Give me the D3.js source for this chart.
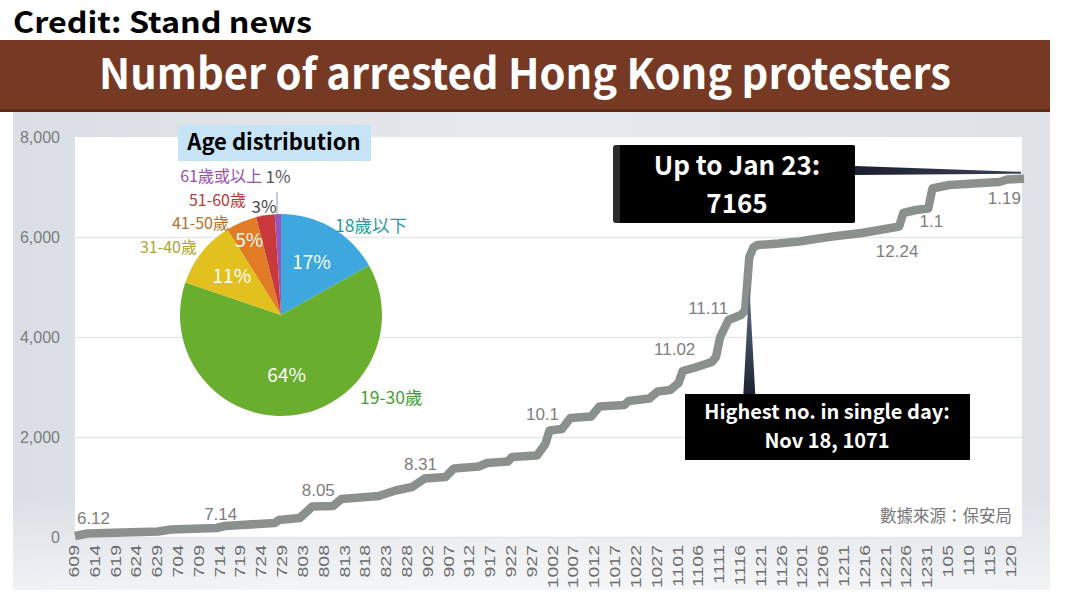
<!DOCTYPE html>
<html><head><meta charset="utf-8">
<script src="https://cdn.jsdelivr.net/npm/d3@7"></script>
<style>body{margin:0;background:#fff;} svg{display:block}</style>
</head><body><svg id="c" width="1080" height="607"></svg>
<script>
// ---- data ----
const lineDates = ["2019-06-09","2019-06-12","2019-06-29","2019-07-02","2019-07-13","2019-07-15","2019-07-27","2019-07-28","2019-08-02","2019-08-05","2019-08-10","2019-08-12","2019-08-21","2019-08-25","2019-08-29","2019-09-01","2019-09-06","2019-09-08","2019-09-14","2019-09-16","2019-09-21","2019-09-22","2019-09-28","2019-09-30","2019-10-01","2019-10-04","2019-10-06","2019-10-11","2019-10-13","2019-10-19","2019-10-20","2019-10-25","2019-10-27","2019-10-30","2019-11-01","2019-11-02","2019-11-05","2019-11-09","2019-11-10","2019-11-11","2019-11-13","2019-11-16","2019-11-17","2019-11-18","2019-11-19","2019-11-20","2019-11-25","2019-11-30","2019-12-03","2019-12-08","2019-12-15","2019-12-22","2019-12-24","2019-12-25","2019-12-28","2019-12-31","2020-01-01","2020-01-05","2020-01-17","2020-01-19","2020-01-23"];
const lineValues = [20,70,110,150,180,220,280,340,380,610,620,760,820,930,1000,1170,1200,1370,1410,1480,1510,1600,1630,1860,2130,2160,2380,2410,2610,2640,2720,2770,2910,2940,3080,3320,3390,3500,3600,4000,4340,4440,4530,5600,5790,5840,5870,5910,5950,6010,6080,6180,6210,6480,6540,6570,6970,7040,7100,7150,7165];
const xTickLabels = ["609","614","619","624","629","704","709","714","719","724","729","803","808","813","818","823","828","902","907","912","917","922","927","1002","1007","1012","1017","1022","1027","1101","1106","1111","1116","1121","1126","1201","1206","1211","1216","1221","1226","1231","105","110","115","120"];
const yTicks = [0,2000,4000,6000,8000];
const noteLabels = ["6.12","7.14","8.05","8.31","10.1","11.02","11.11","12.24","1.1","1.19"];
const noteDates = ["2019-06-12","2019-07-14","2019-08-05","2019-08-31","2019-10-01","2019-11-02","2019-11-11","2019-12-24","2020-01-01","2020-01-19"];
const ageGroups = ["18歲以下","19-30歲","31-40歲","41-50歲","51-60歲","61歲或以上"];
const ageShares = [17,64,11,5,3,1];
const ageColors = ["#3ea8de","#6aae2f","#e2c11f","#e27b26","#c9393c","#9a55b8"];
const labelColors = ["#2b9a9c","#43a032","#b0a52c","#b4712e","#b53a3a","#9b4db0"];
const totalDate = "2020-01-23", totalValue = 7165;
const peakDate = "2019-11-18", peakValue = 1071;

// ---- layout ----
const svg = d3.select("#c");
const parse = d3.timeParse("%Y-%m-%d");
const W = 1080, H = 607;
const HEAD = "Noto Sans CJK TC";
const plot = {l:75, r:1024, t:137, b:537};
const defs = svg.append("defs");
const bg = defs.append("linearGradient").attr("id","bg").attr("x1",0).attr("y1",0).attr("x2",1).attr("y2",0);
bg.append("stop").attr("offset","0%").attr("stop-color","#d9dfe5");
bg.append("stop").attr("offset","50%").attr("stop-color","#e6e9ec");
bg.append("stop").attr("offset","100%").attr("stop-color","#dde2e7");
const bgv = defs.append("linearGradient").attr("id","bgv").attr("x1",0).attr("y1",0).attr("x2",0).attr("y2",1);
bgv.append("stop").attr("offset","0%").attr("stop-color","#fff").attr("stop-opacity",0);
bgv.append("stop").attr("offset","80%").attr("stop-color","#fff").attr("stop-opacity",0);
bgv.append("stop").attr("offset","100%").attr("stop-color","#fff").attr("stop-opacity",0.6);
const wedge = defs.append("linearGradient").attr("id","wedgeH").attr("x1",0).attr("y1",0).attr("x2",1).attr("y2",0);
wedge.append("stop").attr("offset","0%").attr("stop-color","#1c2030");
wedge.append("stop").attr("offset","100%").attr("stop-color","#3b4257");
const wedgeV = defs.append("linearGradient").attr("id","wedgeV").attr("x1",0).attr("y1",1).attr("x2",0).attr("y2",0);
wedgeV.append("stop").attr("offset","0%").attr("stop-color","#1c2030");
wedgeV.append("stop").attr("offset","100%").attr("stop-color","#6a7690");

svg.append("rect").attr("x",0).attr("y",0).attr("width",W).attr("height",H).attr("fill","#fff");
svg.append("rect").attr("x",13).attr("y",112).attr("width",1037).attr("height",478).attr("fill","url(#bg)");
svg.append("rect").attr("x",13).attr("y",112).attr("width",1037).attr("height",478).attr("fill","url(#bgv)");

// title
svg.append("text").attr("x",13).attr("y",33).text("Credit: Stand news")
  .attr("font-family",HEAD).attr("font-weight",700).attr("font-size",29).attr("fill","#000")
  .attr("textLength",299).attr("lengthAdjust","spacingAndGlyphs");
svg.append("rect").attr("x",0).attr("y",40).attr("width",1050).attr("height",72).attr("fill","#763a24");
svg.append("rect").attr("x",0).attr("y",109).attr("width",1050).attr("height",3).attr("fill","#5e2c1a");
svg.append("text").attr("x",525).attr("y",89).attr("text-anchor","middle").text("Number of arrested Hong Kong protesters")
  .attr("font-family",HEAD).attr("font-weight",700).attr("font-size",42).attr("fill","#fff")
  .attr("textLength",852).attr("lengthAdjust","spacingAndGlyphs");

// plot area
svg.append("rect").attr("x",plot.l).attr("y",plot.t).attr("width",1022-plot.l).attr("height",plot.b-plot.t).attr("fill","#fff");

const x = d3.scaleTime().domain([parse("2019-06-09"), parse("2020-01-23")]).range([plot.l, plot.r]);
const y = d3.scaleLinear().domain([0,8000]).range([plot.b, plot.t]);

// y axis with grid
const yAxis = svg.append("g").attr("transform",`translate(${plot.l},0)`)
  .call(d3.axisLeft(y).tickValues(yTicks).tickFormat(d3.format(",")).tickSize(-(1022-plot.l)).tickPadding(15));
yAxis.select(".domain").remove();
yAxis.selectAll(".tick line").attr("stroke","#e4e6e8").attr("stroke-width",1.5).attr("opacity",d=>d===8000?0:1);
yAxis.selectAll(".tick text").attr("font-family","Liberation Sans").attr("font-size",16).attr("fill","#7c7c7c");

// x labels
const tickDate = s => { const m = s.length===3 ? +s.slice(0,1) : +s.slice(0,2); const d = +s.slice(-2); return new Date(m===1?2020:2019, m-1, d); };
svg.append("g").selectAll("text").data(xTickLabels).join("text")
  .attr("transform", d => `translate(${x(tickDate(d))+4},545) rotate(-90) scale(1.3,1)`)
  .attr("text-anchor","end").text(d=>d)
  .attr("font-family","Liberation Sans").attr("font-size",15).attr("fill","#6d6d6d");

// line
const pts = lineDates.map((d,i)=>({date:parse(d), value:lineValues[i]}));
svg.append("path").datum(pts)
  .attr("d", d3.line().x(d=>x(d.date)).y(d=>y(d.value)))
  .attr("fill","none").attr("stroke","#8a918d").attr("stroke-width",8.5).attr("stroke-linejoin","round");

// notes
const valueAt = dt => { const i = d3.bisector(d=>d.date).left(pts, dt); if (i<=0) return pts[0].value; if (i>=pts.length) return pts[pts.length-1].value;
  const a = pts[i-1], b = pts[i]; if (+b.date===+dt) return b.value; return a.value + (b.value-a.value)*(dt-a.date)/(b.date-a.date); };
const noteOffsets = [[6,-10],[0,-7],[6,-11],[0,-11],[-7,-11],[-8,-16],[-12,-23],[-2,30],[-1,38],[-3,24]];
svg.append("g").selectAll("text").data(noteLabels).join("text")
  .attr("x",(d,i)=>x(parse(noteDates[i]))+noteOffsets[i][0])
  .attr("y",(d,i)=>y(valueAt(parse(noteDates[i])))+noteOffsets[i][1])
  .attr("text-anchor","middle").text(d=>d)
  .attr("font-family","Liberation Sans").attr("font-size",17).attr("fill","#7e7e7e");

// source
svg.append("text").attr("x",1012).attr("y",522).attr("text-anchor","end").text("數據來源：保安局")
  .attr("font-family","Noto Sans CJK TC").attr("font-size",16.5).attr("fill","#777");

// annotation: total
const tx = x(parse(totalDate)), ty = y(totalValue);
svg.append("path").attr("d",`M855,166 L${tx-3},${ty-7} L${tx-3},${ty-5} L855,175 Z`).attr("fill","url(#wedgeH)");
svg.append("rect").attr("x",613).attr("y",145).attr("width",242).attr("height",78).attr("rx",3).attr("fill","#2b2b2e");
svg.append("rect").attr("x",620).attr("y",145).attr("width",235).attr("height",78).attr("rx",2).attr("fill","#000");
svg.append("text").attr("x",737).attr("y",175).attr("text-anchor","middle").text("Up to Jan 23:")
  .attr("font-family",HEAD).attr("font-weight",700).attr("font-size",26).attr("fill","#fff");
svg.append("text").attr("x",737).attr("y",213).attr("text-anchor","middle").text(d3.format("d")(totalValue))
  .attr("font-family",HEAD).attr("font-weight",700).attr("font-size",26).attr("fill","#fff");

// annotation: peak
const px = x(parse(peakDate));
svg.append("path").attr("d",`M${px-6},395 L${px},${y(5000)-2} L${px+6},395 Z`).attr("fill","url(#wedgeV)");
svg.append("rect").attr("x",685).attr("y",394).attr("width",285).attr("height",66).attr("fill","#000");
svg.append("text").attr("x",827).attr("y",419).attr("text-anchor","middle").text("Highest no. in single day:")
  .attr("font-family",HEAD).attr("font-weight",700).attr("font-size",20).attr("fill","#fff");
svg.append("text").attr("x",827).attr("y",448).attr("text-anchor","middle").text("Nov 18, " + peakValue)
  .attr("font-family",HEAD).attr("font-weight",700).attr("font-size",20).attr("fill","#fff");

// pie
const cx = 281, cy = 315, R = 101;
const pie = d3.pie().sort(null).value(d=>d);
const arcs = pie(ageShares);
const arc = d3.arc().innerRadius(0).outerRadius(R);
const g = svg.append("g").attr("transform",`translate(${cx},${cy})`);
g.selectAll("path").data(arcs).join("path").attr("d",arc).attr("fill",(d,i)=>ageColors[i]);
const inR = [0.6,0.6,0.62,0.8];
g.selectAll("text.in").data(arcs.slice(0,4)).join("text").attr("class","in")
  .attr("transform",(d,i)=>`translate(${d3.arc().innerRadius(R*inR[i]).outerRadius(R*inR[i]).centroid(d)})`)
  .attr("text-anchor","middle").attr("dy","0.35em").text(d=>d.data+"%")
  .attr("font-family","Noto Sans CJK TC").attr("font-size",19).attr("fill","#fff");
// outside percentage labels
svg.append("text").attr("x",264).attr("y",213).attr("text-anchor","middle").text(ageShares[4]+"%")
  .attr("font-family","Noto Sans CJK TC").attr("font-size",17).attr("fill","#444");
svg.append("line").attr("x1",277).attr("x2",277).attr("y1",192).attr("y2",214).attr("stroke","#999").attr("stroke-width",1);
svg.append("text").attr("x",278).attr("y",183).attr("text-anchor","middle").text(ageShares[5]+"%")
  .attr("font-family","Noto Sans CJK TC").attr("font-size",17).attr("fill","#555");
// group labels
const gl = [[335,232,"start"],[360,404,"start"],[197,253,"end"],[229,229,"end"],[246,206,"end"],[262,182,"end"]];
svg.append("g").selectAll("text").data(ageGroups).join("text")
  .attr("x",(d,i)=>gl[i][0]).attr("y",(d,i)=>gl[i][1]).attr("text-anchor",(d,i)=>gl[i][2]).text(d=>d)
  .attr("font-family","Noto Sans CJK TC").attr("font-size",(d,i)=>i<2?17.5:16).attr("fill",(d,i)=>labelColors[i]);

// pie title
svg.append("rect").attr("x",178).attr("y",125).attr("width",193).attr("height",36).attr("fill","#c7e3f6");
svg.append("text").attr("x",274).attr("y",150).attr("text-anchor","middle").text("Age distribution")
  .attr("font-family",HEAD).attr("font-weight",700).attr("font-size",22).attr("fill","#000");
</script></body></html>
